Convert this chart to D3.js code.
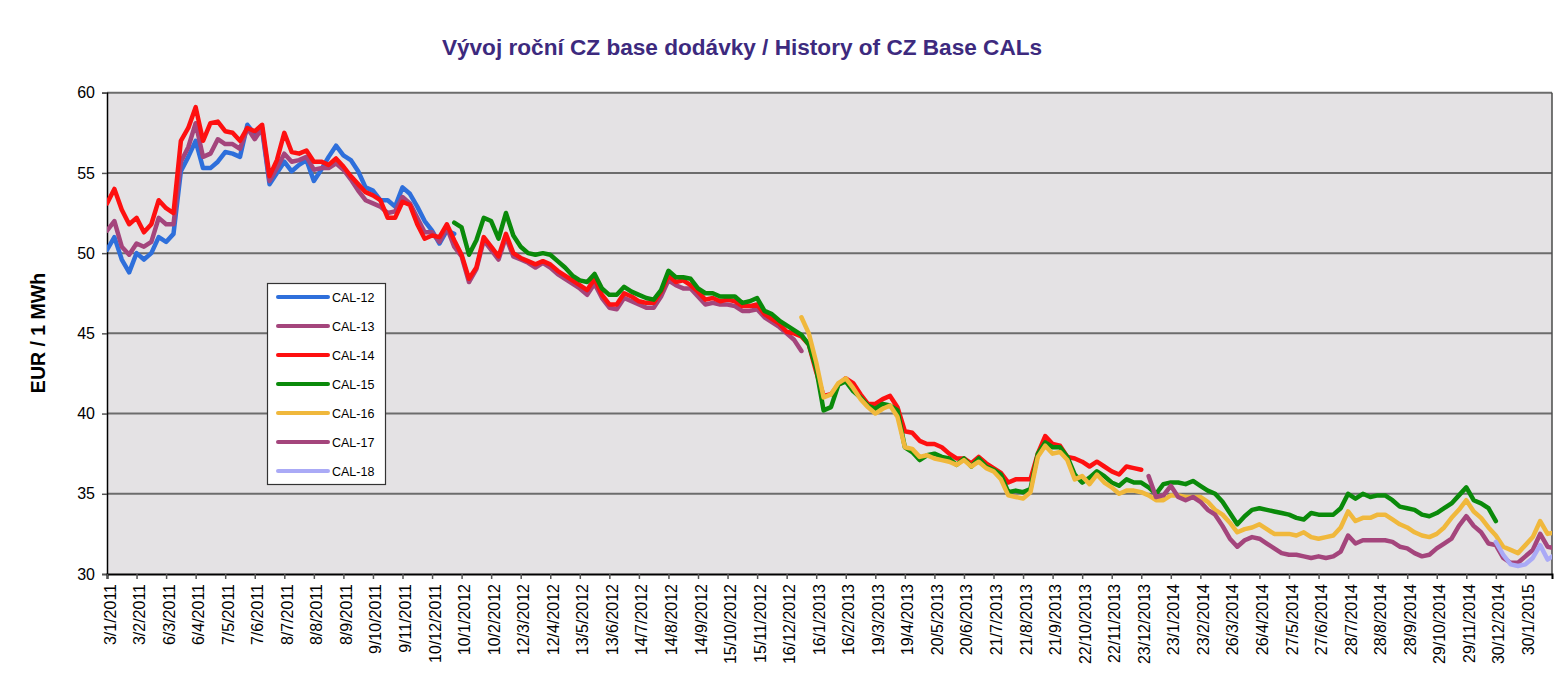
<!DOCTYPE html>
<html><head><meta charset="utf-8">
<script src="https://cdn.jsdelivr.net/npm/d3@7"></script>
<style>
html,body{margin:0;padding:0;background:#fff;}
svg{display:block;font-family:"Liberation Sans",Arial,sans-serif;}
</style></head>
<body><svg id="chart" width="1567" height="677"></svg>
<script>
// ---- DATA (values sampled every quarter of a tick interval) ----
const tickLabels = ["3/1/2011","3/2/2011","6/3/2011","6/4/2011","7/5/2011","7/6/2011","8/7/2011","8/8/2011","8/9/2011","9/10/2011","9/11/2011","10/12/2011",
"10/1/2012","10/2/2012","12/3/2012","12/4/2012","13/5/2012","13/6/2012","14/7/2012","14/8/2012","14/9/2012","15/10/2012","15/11/2012","16/12/2012",
"16/1/2013","16/2/2013","19/3/2013","19/4/2013","20/5/2013","20/6/2013","21/7/2013","21/8/2013","21/9/2013","22/10/2013","22/11/2013","23/12/2013",
"23/1/2014","23/2/2014","26/3/2014","26/4/2014","27/5/2014","27/6/2014","28/7/2014","28/8/2014","28/9/2014","29/10/2014","29/11/2014","30/12/2014",
"30/1/2015"];
const yTicks = [30,35,40,45,50,55,60];
const seriesNames = ["CAL-12","CAL-13","CAL-14","CAL-15","CAL-16","CAL-17","CAL-18"];
const seriesColors = ["#2e6fdb","#a4457c","#fe1010","#0a8a0a","#f0b83c","#a4457c","#aaaaf6"];
const seriesStart = [0,0,0,47,94,141,188];

const cal12 = [50.2,51.0,49.6,48.8,50.0,49.6,50.0,51.0,50.7,51.2,55.1,56.0,57.0,55.3,55.3,55.7,56.3,56.2,56.0,58.0,
57.4,57.7,54.3,55.0,55.7,55.1,55.5,55.8,54.5,55.2,56.0,56.7,56.1,55.8,55.1,54.1,53.9,53.3,53.3,52.9,
54.1,53.7,52.9,52.0,51.4,50.6,51.4,51.2];
const cal13 = [51.4,52.0,50.4,49.9,50.6,50.4,50.7,52.2,51.8,51.8,55.7,56.6,58.1,56.0,56.2,57.1,56.8,56.8,56.5,57.8,
57.1,57.8,54.5,55.3,56.2,55.7,55.8,56.0,55.2,55.3,55.3,55.6,55.2,54.6,53.9,53.3,53.1,52.9,52.5,52.6,
53.5,53.1,52.2,51.3,51.3,50.7,51.6,50.4,
49.8,48.2,49.0,50.8,50.2,49.6,51.0,49.8,49.6,49.4,49.1,49.4,49.1,48.7,48.4,48.1,47.8,
47.4,48.1,47.2,46.6,46.5,47.2,47.0,46.8,46.6,46.6,47.3,48.3,48.0,47.8,47.8,47.3,46.8,46.9,46.8,46.8,
46.7,46.4,46.4,46.5,46.0,45.7,45.4,45.0,44.6,43.9];
const cal14 = [53.1,54.0,52.7,51.8,52.2,51.3,51.8,53.3,52.8,52.5,
57.0,57.8,59.1,57.0,58.1,58.2,57.6,57.5,57.0,57.8,
57.6,58.0,54.8,55.8,57.5,56.3,56.2,56.4,55.7,55.7,
55.5,55.9,55.4,54.8,54.3,53.8,53.6,53.3,52.2,52.2,
53.2,53.0,51.8,50.9,51.1,51.0,51.8,50.8,
49.9,48.4,49.1,51.0,50.4,49.8,51.2,50.0,49.7,49.5,
49.3,49.5,49.3,48.9,48.6,48.3,48.0,47.7,48.4,47.4,
46.8,46.8,47.5,47.3,47.0,46.9,46.9,47.6,48.6,48.2,
48.3,48.0,47.6,47.1,47.2,47.0,47.1,47.0,46.7,46.7,
46.8,46.2,45.9,45.6,45.1,45.0,44.8,44.3,42.6,41.1,
41.2,41.8,42.2,41.9,41.2,40.6,40.6,40.9,41.1,40.4,
38.9,38.8,38.3,38.1,38.1,37.9,37.5,37.2,37.2,36.9,
37.3,36.9,36.6,36.3,35.7,35.9,35.9,35.9,37.5,38.6,
38.1,38.0,37.3,37.2,37.0,36.7,37.0,36.7,36.4,36.2,
36.7,36.6,36.5];
const cal15 = [51.9,
51.6,49.9,50.8,52.2,52.0,50.9,52.5,51.1,50.4,50.0,
49.9,50.0,49.9,49.5,49.1,48.6,48.3,48.2,48.7,47.8,
47.4,47.4,47.9,47.6,47.4,47.2,47.1,47.7,48.9,48.5,
48.5,48.4,47.8,47.5,47.5,47.3,47.3,47.3,46.9,47.0,
47.2,46.4,46.2,45.8,45.5,45.2,44.9,44.3,42.8,40.2,
40.4,41.8,42.0,41.4,41.0,40.5,40.3,40.6,40.5,40.2,
37.9,37.6,37.1,37.4,37.5,37.3,37.2,36.8,37.2,36.7,
37.2,36.7,36.5,36.2,35.1,35.2,35.1,35.3,37.5,38.2,
37.9,37.9,37.3,36.2,35.7,36.0,36.4,36.1,35.7,35.5,
35.9,35.7,35.7,35.4,35.0,35.6,35.7,35.7,35.6,35.8,
35.5,35.2,35.0,34.5,33.8,33.1,33.6,34.0,34.1,34.0,
33.9,33.8,33.7,33.5,33.4,33.8,33.7,33.7,33.7,34.1,
35.0,34.7,35.0,34.8,34.9,34.9,34.6,34.2,34.1,34.0,
33.7,33.6,33.8,34.1,34.4,34.9,35.4,34.6,34.4,34.1,
33.3];
const cal16 = [46.0,45.0,
43.2,41.0,41.2,41.9,42.2,41.6,40.9,40.4,40.0,40.3,
40.5,39.8,37.9,37.8,37.3,37.4,37.2,37.1,37.0,36.8,
37.1,36.7,37.0,36.6,36.4,35.9,34.9,34.8,34.7,35.1,
37.3,38.0,37.5,37.6,37.1,35.9,36.1,35.6,36.2,35.7,
35.4,35.0,35.2,35.2,35.1,34.9,34.6,34.6,34.9,34.9,
34.8,34.8,34.8,34.5,34.0,33.7,33.2,32.6,32.8,32.9,
33.1,32.8,32.5,32.5,32.5,32.4,32.6,32.3,32.2,32.3,
32.4,32.9,33.9,33.3,33.5,33.5,33.7,33.7,33.4,33.1,
32.9,32.6,32.4,32.3,32.5,32.9,33.5,34.0,34.6,33.9,
33.5,32.9,32.4,31.7,31.5,31.3,31.8,32.3,33.3,32.5,
32.6];
const cal17 = [36.1,34.8,34.9,
35.5,34.8,34.6,34.8,34.5,34.0,33.7,33.0,32.2,31.7,
32.1,32.3,32.2,31.9,31.6,31.3,31.2,31.2,31.1,31.0,
31.1,31.0,31.1,31.4,32.4,31.9,32.1,32.1,32.1,32.1,
32.0,31.7,31.6,31.3,31.1,31.2,31.6,31.9,32.2,33.0,
33.6,33.0,32.6,31.9,31.8,31.0,30.7,30.7,31.1,31.5,
32.5,31.7,31.6];
const cal18 = [32.0,31.2,30.6,30.5,30.6,31.0,31.8,30.9,31.2];

const seriesValues = [cal12,cal13,cal14,cal15,cal16,cal17,cal18];

// ---- LAYOUT ----
const L = 107, R = 1552, T = 92.7, B = 574;
const svg = d3.select("#chart");
const x = d3.scaleLinear().domain([0, 195.6]).range([L, R]);
const y = d3.scaleLinear().domain([30, 60]).range([B, T]);
const font = '"Liberation Sans",Arial,sans-serif';

// title
svg.append("text").attr("x", 742).attr("y", 55).attr("text-anchor","middle")
  .attr("font-size", 22.6).attr("font-weight","bold").attr("fill","#3d2a7e")
  .text("Vývoj roční CZ base dodávky / History of CZ Base CALs");

// plot background
svg.append("rect").attr("x", L).attr("y", T).attr("width", R-L).attr("height", B-T).attr("fill","#e4e2e4");

// gridlines
svg.append("g").selectAll("line").data(yTicks.filter(v=>v>30)).join("line")
  .attr("x1", L).attr("x2", R).attr("y1", d=>y(d)).attr("y2", d=>y(d))
  .attr("stroke", "#6c6c6c").attr("stroke-width", 2);

// right border
svg.append("line").attr("x1",R).attr("x2",R).attr("y1",T).attr("y2",B).attr("stroke","#4a4a4a").attr("stroke-width",1.5);

// y axis
const yAxis = d3.axisLeft(y).tickValues(yTicks).tickSize(5).tickPadding(7).tickFormat(d3.format("d"));
const gy = svg.append("g").attr("transform",`translate(${L},0)`).call(yAxis);
gy.select(".domain").attr("stroke","#000").attr("stroke-width",1.5);
gy.selectAll(".tick line").attr("stroke","#555").attr("stroke-width",1.5);
gy.selectAll(".tick text").attr("font-size",16).attr("font-family",font).attr("fill","#000");

// x axis
const xAxis = d3.axisBottom(x).tickValues(d3.range(tickLabels.length).map(i=>i*4))
  .tickSize(5).tickFormat((d,i)=>tickLabels[i]);
const gx = svg.append("g").attr("transform",`translate(0,${B})`).call(xAxis);
gx.select(".domain").attr("stroke","#000").attr("stroke-width",2);
gx.selectAll(".tick line").attr("stroke","#555").attr("stroke-width",1.5);
gx.selectAll(".tick text").attr("font-size",16).attr("font-family",font).attr("fill","#000")
  .attr("text-anchor","end").attr("transform","rotate(-90)")
  .attr("x",-10).attr("y",0).attr("dy","0.5em");

// y label
svg.append("text").attr("transform","translate(45,333) rotate(-90)").attr("text-anchor","middle")
  .attr("font-size",19.5).attr("font-weight","bold").attr("fill","#000").text("EUR / 1 MWh");

// clip
svg.append("clipPath").attr("id","clip").append("rect").attr("x",L).attr("y",T).attr("width",R-L).attr("height",B-T);

const line = d3.line().x(d=>x(d[0])).y(d=>y(d[1])).curve(d3.curveLinear);
const gLines = svg.append("g").attr("clip-path","url(#clip)");
seriesValues.forEach((vals, s)=>{
  const pts = vals.map((v,i)=>[seriesStart[s]+i, v]);
  gLines.append("path").datum(pts).attr("d", line).attr("fill","none")
    .attr("stroke", seriesColors[s]).attr("stroke-width", 4.5)
    .attr("stroke-linejoin","round").attr("stroke-linecap","round");
});

// legend
const lg = svg.append("g");
lg.append("rect").attr("x",267.5).attr("y",283.5).attr("width",118).attr("height",201)
  .attr("fill","#fff").attr("stroke","#333").attr("stroke-width",1.2);
seriesNames.forEach((n,i)=>{
  const yy = 297 + i*29;
  lg.append("line").attr("x1",278).attr("x2",328).attr("y1",yy).attr("y2",yy)
    .attr("stroke",seriesColors[i]).attr("stroke-width",4).attr("stroke-linecap","round");
  lg.append("text").attr("x",332).attr("y",yy+4.5).attr("font-size",12.5).attr("fill","#000").text(n);
});
</script></body></html>
